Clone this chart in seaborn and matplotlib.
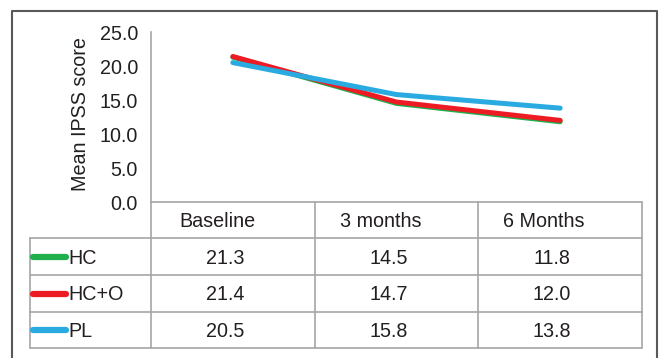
import matplotlib
matplotlib.use("Agg")
import matplotlib.pyplot as plt
import seaborn as sns
import pandas as pd
from matplotlib.lines import Line2D

categories = ["Baseline", "3 months", "6 Months"]
groups = ["HC", "HC+O", "PL"]
hc = [21.3, 14.5, 11.8]
hco = [21.4, 14.7, 12.0]
pl = [20.5, 15.8, 13.8]
colors = ["#1FB04B", "#ED1C24", "#29ABE2"]
yticks = [0, 5, 10, 15, 20, 25]

series = {"HC": hc, "HC+O": hco, "PL": pl}
rows = []
for g in groups:
    for c, v in zip(categories, series[g]):
        rows.append({"time": c, "score": v, "group": g})
df = pd.DataFrame(rows)

sns.set_style("white")
plt.rcParams["font.family"] = ["Liberation Sans", "DejaVu Sans"]
FS = 14.2
TXT = "#231F20"
GRID = "#A7A4A6"

W, H = 659, 358
fig = plt.figure(figsize=(W / 100, H / 100), dpi=100)

# pixel geometry
x_left, x_right = 151, 642
y_top, y_zero = 32, 202
col_edges = [151, 315, 478, 642]
row_edges = [202, 238, 275, 312, 348]
leg_left = 30
head_shift = -16
val_shift = -8

ax = fig.add_axes([x_left / W, 1 - y_zero / H, (x_right - x_left) / W, (y_zero - y_top) / H])
sns.lineplot(data=df, x="time", y="score", hue="group", hue_order=groups,
             palette=colors, sort=False, lw=3.6, legend=False, ax=ax,
             solid_capstyle="round", solid_joinstyle="round")
ax.set_xlim(-0.5, 2.5)
ax.set_ylim(0, 25)
ax.set_yticks(yticks)
ax.set_yticklabels([f"{t:.1f}" for t in yticks], fontsize=FS, color=TXT)
ax.set_xticks([])
ax.set_xlabel("")
ax.tick_params(axis="y", length=0, pad=9.4)
for s in ["top", "right", "bottom"]:
    ax.spines[s].set_visible(False)
ax.spines["left"].set_color(GRID)
ax.spines["left"].set_linewidth(1.2)
ax.set_ylabel("Mean IPSS score", fontsize=FS, color=TXT)
ax.yaxis.label.set_va("center")
ax.yaxis.set_label_coords((81 - x_left) / (x_right - x_left), (y_zero - 114.5) / (y_zero - y_top))
ax.patch.set_alpha(0)

# overlay axes in pixel coordinates for table and frame
ov = fig.add_axes([0, 0, 1, 1])
ov.set_xlim(0, W)
ov.set_ylim(H, 0)
ov.axis("off")
ov.patch.set_alpha(0)

lwg = 1.2
ov.plot([col_edges[0], col_edges[-1]], [row_edges[0], row_edges[0]], color=GRID, lw=lwg)
for yv in row_edges[1:]:
    ov.plot([leg_left, col_edges[-1]], [yv, yv], color=GRID, lw=lwg)
for xv in col_edges:
    ov.plot([xv, xv], [row_edges[0], row_edges[-1]], color=GRID, lw=lwg)
ov.plot([leg_left, leg_left], [row_edges[1], row_edges[-1]], color=GRID, lw=lwg)

centers = [(col_edges[i] + col_edges[i + 1]) / 2 for i in range(3)]
for cx, c in zip(centers, categories):
    ov.text(cx + head_shift, (row_edges[0] + row_edges[1]) / 2 + 1.5, c, ha="center",
            va="center", fontsize=FS, color=TXT)
for r, g in enumerate(groups):
    cy = (row_edges[r + 1] + row_edges[r + 2]) / 2 + 1.5
    ov.add_line(Line2D([33, 66], [cy - 1.5, cy - 1.5], color=colors[r], lw=4.5,
                       solid_capstyle="round"))
    ov.text(68, cy, g, ha="left", va="center", fontsize=FS, color=TXT)
    for cx, v in zip(centers, series[g]):
        ov.text(cx + val_shift, cy, f"{v:.1f}", ha="center", va="center", fontsize=FS,
                color=TXT)

# outer frame
ov.plot([11.5, 11.5, 657, 657], [H + 5, 10.5, 10.5, H + 5], color="#595959", lw=1.5,
        clip_on=False)

fig.savefig("out.png", dpi=100)
